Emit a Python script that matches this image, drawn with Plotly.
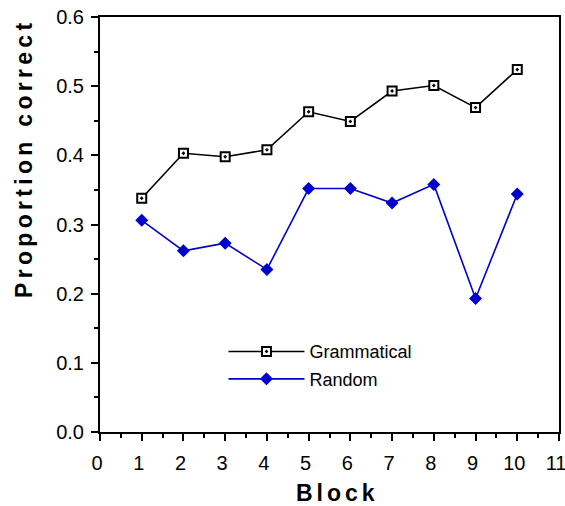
import plotly.graph_objects as go

blocks = [1, 2, 3, 4, 5, 6, 7, 8, 9, 10]
grammatical = [0.338, 0.403, 0.398, 0.408, 0.463, 0.449, 0.493, 0.501, 0.469, 0.524]
random_order = [0.306, 0.262, 0.273, 0.235, 0.352, 0.352, 0.331, 0.358, 0.193, 0.344]
series_names = ["Grammatical", "Random"]
x_title = "Block"
y_title = "Proportion correct"

FONT = "Liberation Sans, Arial, sans-serif"
BLUE = "#0000cc"

fig = go.Figure()
fig.add_trace(go.Scatter(
    x=blocks, y=grammatical, name=series_names[0], mode="lines+markers",
    legendgroup="g",
    line=dict(color="black", width=1.6),
    marker=dict(symbol="square-dot", size=9, color="white",
                line=dict(color="black", width=2)),
))
fig.add_trace(go.Scatter(
    x=blocks, y=random_order, name=series_names[1], mode="lines+markers",
    legendgroup="r",
    line=dict(color=BLUE, width=1.6),
    marker=dict(symbol="diamond", size=10, color=BLUE,
                line=dict(color=BLUE, width=0)),
))

axis_common = dict(
    showline=True, linewidth=2, linecolor="black", mirror=True,
    ticks="outside", tickcolor="black", tickwidth=1.5,
    showgrid=False, zeroline=False, ticklabeloverflow="allow",
    automargin=False,
    tickfont=dict(family=FONT, size=20, color="black"),
)

fig.update_xaxes(range=[0, 11], dtick=1, tick0=0, ticklen=7,
                 ticklabelstandoff=5, ticklabelshift=-3,
                 minor=dict(ticks="outside", dtick=0.5, ticklen=4,
                            tickwidth=1.5, tickcolor="black"),
                 **axis_common)
fig.update_yaxes(range=[0, 0.6], dtick=0.1, tick0=0, ticklen=7,
                 tickformat=".1f", ticklabelstandoff=3,
                 minor=dict(ticks="outside", dtick=0.05, ticklen=4,
                            tickwidth=1.5, tickcolor="black"),
                 **axis_common)

fig.add_annotation(
    text='<span style="letter-spacing:4.3px">' + y_title + '</span>',
    xref="paper", yref="paper", x=-0.166, y=0.66,
    xanchor="center", yanchor="middle", textangle=-90, showarrow=False,
    font=dict(family=FONT, size=23, color="black", weight="bold"),
)
fig.add_annotation(
    text='<span style="letter-spacing:4px">' + x_title + '</span>',
    xref="paper", yref="paper", x=0.518, y=-0.148,
    xanchor="center", yanchor="middle", showarrow=False,
    font=dict(family=FONT, size=23, color="black", weight="bold"),
)

fig.update_layout(
    width=565, height=506,
    margin=dict(l=100, r=6, t=17, b=74, autoexpand=False),
    plot_bgcolor="white", paper_bgcolor="white",
    showlegend=True,
    legend=dict(x=0.269, y=0.238, xanchor="left", yanchor="top",
                bgcolor="rgba(0,0,0,0)", borderwidth=0,
                itemwidth=76, tracegroupgap=1,
                font=dict(family=FONT, size=18, color="black")),
    font=dict(family=FONT, color="black"),
)

# Remove the default 8px page margin so the 565x506 figure fills the window.
fig.write_html("out.html",
               config={"displayModeBar": False},
               post_script="document.body.style.margin='0';"
                           "document.body.style.overflow='hidden';")
